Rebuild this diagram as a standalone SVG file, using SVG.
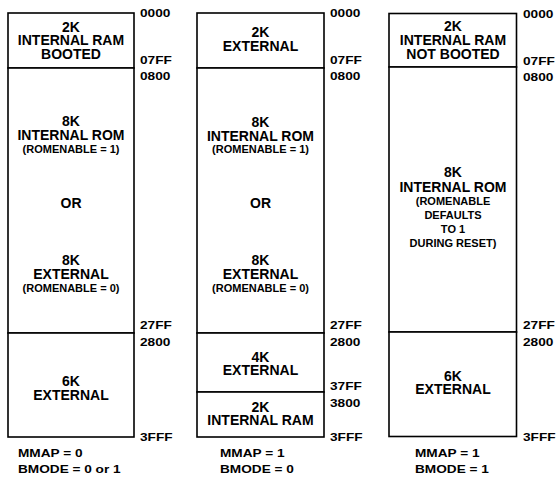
<svg xmlns="http://www.w3.org/2000/svg" width="556" height="477" viewBox="0 0 556 477">
<style>
.r{fill:#fff;stroke:#000;stroke-width:1.6}
.t{font-family:"Liberation Sans",Arial,sans-serif;font-weight:bold;font-size:14px;text-anchor:middle;fill:#000}
.s{font-family:"Liberation Sans",Arial,sans-serif;font-weight:bold;font-size:11px;text-anchor:middle;fill:#000}
.a{font-family:"Liberation Sans",Arial,sans-serif;font-weight:bold;font-size:10.5px;fill:#000}
</style>
<rect width="556" height="477" fill="#fff"/>
<g id="col1">
<g id="c1-ram"><rect class="r" x="8" y="13" width="126" height="55"/>
<text class="t" x="71" y="31.5">2K</text><text class="t" x="71" y="45">INTERNAL RAM</text><text class="t" x="71" y="59">BOOTED</text></g>
<g id="c1-rom"><rect class="r" x="8" y="68" width="126" height="265"/>
<text class="t" x="71" y="126">8K</text><text class="t" x="71" y="140">INTERNAL ROM</text><text class="s" x="71" y="153">(ROMENABLE = 1)</text>
<text class="t" x="71" y="208">OR</text>
<text class="t" x="71" y="265">8K</text><text class="t" x="71" y="278.5">EXTERNAL</text><text class="s" x="71" y="292">(ROMENABLE = 0)</text></g>
<g id="c1-ext"><rect class="r" x="8" y="333" width="126" height="104"/>
<text class="t" x="71" y="386">6K</text><text class="t" x="71" y="399.5">EXTERNAL</text></g>
<g id="c1-addr">
<text class="a" transform="translate(140 17) scale(1.3 1)">0000</text>
<text class="a" transform="translate(140 63.5) scale(1.3 1)">07FF</text>
<text class="a" transform="translate(140 80) scale(1.3 1)">0800</text>
<text class="a" transform="translate(140 329) scale(1.3 1)">27FF</text>
<text class="a" transform="translate(140 345.5) scale(1.3 1)">2800</text>
<text class="a" transform="translate(140 441) scale(1.3 1)">3FFF</text>
<text class="a" transform="translate(18 457) scale(1.3 1)">MMAP = 0</text>
<text class="a" transform="translate(18 473) scale(1.3 1)">BMODE = 0 or 1</text>
</g>
</g>
<g id="col2">
<g id="c2-ext1"><rect class="r" x="197" y="13" width="127" height="55"/>
<text class="t" x="260.5" y="36.5">2K</text><text class="t" x="260.5" y="51">EXTERNAL</text></g>
<g id="c2-rom"><rect class="r" x="197" y="68" width="127" height="265"/>
<text class="t" x="260.5" y="126.5">8K</text><text class="t" x="260.5" y="140.5">INTERNAL ROM</text><text class="s" x="260.5" y="153">(ROMENABLE = 1)</text>
<text class="t" x="260.5" y="208">OR</text>
<text class="t" x="260.5" y="265">8K</text><text class="t" x="260.5" y="278.5">EXTERNAL</text><text class="s" x="260.5" y="292">(ROMENABLE = 0)</text></g>
<g id="c2-ext2"><rect class="r" x="197" y="333" width="127" height="59"/>
<text class="t" x="260.5" y="361.5">4K</text><text class="t" x="260.5" y="374.5">EXTERNAL</text></g>
<g id="c2-ram"><rect class="r" x="197" y="392" width="127" height="45"/>
<text class="t" x="260.5" y="411.5">2K</text><text class="t" x="260.5" y="424.5">INTERNAL RAM</text></g>
<g id="c2-addr">
<text class="a" transform="translate(330 17) scale(1.3 1)">0000</text>
<text class="a" transform="translate(330 63.5) scale(1.3 1)">07FF</text>
<text class="a" transform="translate(330 80) scale(1.3 1)">0800</text>
<text class="a" transform="translate(330 328.5) scale(1.3 1)">27FF</text>
<text class="a" transform="translate(330 345.5) scale(1.3 1)">2800</text>
<text class="a" transform="translate(330 390) scale(1.3 1)">37FF</text>
<text class="a" transform="translate(330 406.5) scale(1.3 1)">3800</text>
<text class="a" transform="translate(330 441) scale(1.3 1)">3FFF</text>
<text class="a" transform="translate(220 457) scale(1.3 1)">MMAP = 1</text>
<text class="a" transform="translate(220 473) scale(1.3 1)">BMODE = 0</text>
</g>
</g>
<g id="col3">
<g id="c3-ram"><rect class="r" x="389" y="13.5" width="127.5" height="53.5"/>
<text class="t" x="453" y="31">2K</text><text class="t" x="453" y="45">INTERNAL RAM</text><text class="t" x="453" y="59">NOT BOOTED</text></g>
<g id="c3-rom"><rect class="r" x="389" y="67" width="127.5" height="265"/>
<text class="t" x="453" y="177">8K</text><text class="t" x="453" y="191.5">INTERNAL ROM</text>
<text class="s" x="453" y="205">(ROMENABLE</text><text class="s" x="453" y="219">DEFAULTS</text><text class="s" x="453" y="233">TO 1</text><text class="s" x="453" y="247">DURING RESET)</text></g>
<g id="c3-ext"><rect class="r" x="389" y="332" width="127.5" height="104.5"/>
<text class="t" x="453" y="381">6K</text><text class="t" x="453" y="394">EXTERNAL</text></g>
<g id="c3-addr">
<text class="a" transform="translate(523 18) scale(1.3 1)">0000</text>
<text class="a" transform="translate(523 64.5) scale(1.3 1)">07FF</text>
<text class="a" transform="translate(523 81) scale(1.3 1)">0800</text>
<text class="a" transform="translate(523 329) scale(1.3 1)">27FF</text>
<text class="a" transform="translate(523 345.5) scale(1.3 1)">2800</text>
<text class="a" transform="translate(523 441) scale(1.3 1)">3FFF</text>
<text class="a" transform="translate(415 457) scale(1.3 1)">MMAP = 1</text>
<text class="a" transform="translate(415 473) scale(1.3 1)">BMODE = 1</text>
</g>
</g>
<g id="connectors"></g>
</svg>
